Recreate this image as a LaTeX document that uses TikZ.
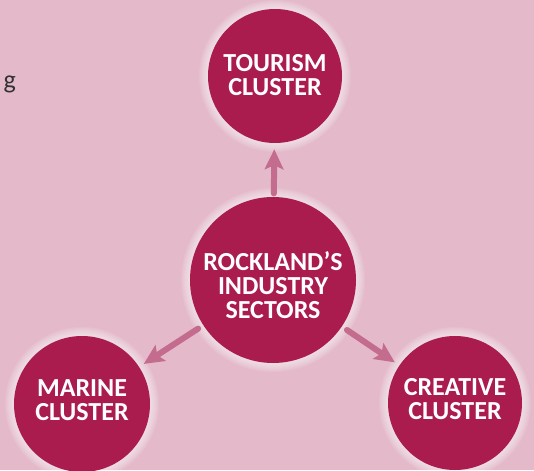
\documentclass[tikz,border=0pt]{standalone}
\usepackage{fontspec}
\setmainfont{Carlito}
\usetikzlibrary{arrows.meta}
\definecolor{bgpink}{RGB}{228,186,202}
\definecolor{berry}{RGB}{170,27,78}
\definecolor{arrowpink}{RGB}{196,108,142}
\definecolor{textgray}{RGB}{50,50,50}
\begin{document}
\begin{tikzpicture}[x=0.75pt,y=-0.75pt,
  cluster/.style={circle, fill=berry, inner sep=0pt},
  clustertext/.style={text=white, font=\bfseries\fontsize{19.5}{17.8}\selectfont, align=center, inner sep=0pt},
  link/.style={draw=arrowpink, line width=4.5pt, line cap=round, -{Stealth[length=15pt,width=14pt,inset=3pt]}},
  glowring/.style={fill=white, opacity=0.08}]
\fill[bgpink] (0,0) rectangle (534,470);
\useasboundingbox (0,0) rectangle (534,470);
% glows
\foreach \cx/\cy/\r in {275/76/67, 273/280/83, 82/404/68, 455/403/67}{
  \foreach \i in {1,...,9}{
    \fill[glowring] (\cx,\cy) circle[radius=\r+\i];
  }
}
\node[anchor=base west, text=textgray, font=\fontsize{19.5}{23}\selectfont] (frag) at (-1,89) {g};
\node[cluster, minimum size=100.5pt] (tourism) at (275,76) {};
\node[cluster, minimum size=124.5pt] (core) at (273,280) {};
\node[cluster, minimum size=102pt] (marine) at (82,404) {};
\node[cluster, minimum size=100.5pt] (creative) at (455,403) {};
\node[clustertext] (tourismtext) at ([yshift=0.8pt]tourism.center) {TOURISM\\CLUSTER};
\node[clustertext] (coretext) at ([yshift=-4pt]core.center) {ROCKLAND’S\\INDUSTRY\\SECTORS};
\node[clustertext] (marinetext) at ([yshift=3pt]marine.center) {MARINE\\CLUSTER};
\node[clustertext] (creativetext) at ([yshift=3pt]creative.center) {CREATIVE\\CLUSTER};
\draw[link, shorten <=2.5pt, shorten >=4.5pt] (core) -- (tourism);
\draw[link, shorten <=4.5pt, shorten >=4pt] (core) -- (marine);
\draw[link, shorten <=4.5pt, shorten >=4pt] (core) -- (creative);
\end{tikzpicture}
\end{document}
